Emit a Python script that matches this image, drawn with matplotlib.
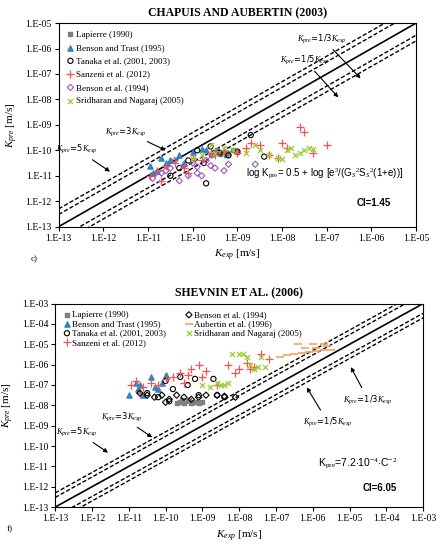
import matplotlib.pyplot as plt
import numpy as np

# ---- data (log10 of K_exp, K_pre) ----
# panel c) Chapuis and Aubertin (2003)
c_lap_x = [-9.6, -9.5, -9.4, -9.3, -9.2, -9.1, -9.0, -9.45, -9.25]
c_lap_y = [-10.2, -10.1, -10.15, -10.05, -10.1, -10.0, -10.05, -10.0, -10.2]
c_bt_x = [-10.95, -10.8, -10.7, -10.6, -10.5, -10.3, -10.0, -9.8, -9.7, -10.2, -10.9]
c_bt_y = [-10.6, -10.8, -10.3, -10.5, -10.4, -10.2, -10.05, -9.95, -10.0, -10.5, -10.9]
c_tan_x = [-10.5, -10.3, -9.9, -9.7, -9.6, -9.4, -9.2, -9.0, -8.7, -8.4, -9.75, -10.1]
c_tan_y = [-11.0, -10.7, -10.0, -11.3, -9.85, -10.1, -10.2, -10.05, -9.4, -10.25, -10.5, -10.4]
c_san_x = [-10.95, -10.8, -10.6, -10.4, -10.2, -10.0, -9.8, -9.5, -9.3, -9.0, -8.8, -8.5, -8.3,
           -8.0, -7.9, -7.6, -7.5, -7.3, -7.0, -10.7, -10.1, -9.6, -8.7, -8.1]
c_san_y = [-11.0, -10.8, -10.6, -10.5, -10.7, -10.3, -10.4, -10.2, -10.0, -10.1, -9.9, -9.8, -10.2,
           -9.7, -9.9, -9.1, -9.3, -10.1, -9.8, -11.2, -10.9, -10.1, -9.7, -10.3]
c_ben_x = [-10.9, -10.7, -10.5, -10.3, -10.2, -10.0, -9.9, -9.8, -9.6, -9.5, -9.3, -9.2, -8.6,
           -10.4, -10.1, -9.7, -10.6, -9.9]
c_ben_y = [-11.1, -10.9, -10.7, -11.2, -10.6, -10.5, -10.9, -11.0, -10.6, -10.7, -10.8, -10.55, -10.55,
           -10.4, -11.0, -10.4, -10.8, -10.65]
c_sri_x = [-10.0, -9.8, -9.5, -9.3, -9.1, -8.8, -8.5, -8.3, -8.1, -7.9, -7.7, -7.6, -7.5, -7.4, -7.3,
           -8.6, -8.0, -7.8, -9.6]
c_sri_y = [-10.3, -10.2, -10.1, -9.9, -10.0, -10.1, -10.0, -10.2, -10.3, -10.0, -10.2, -10.1, -10.0, -9.9,
           -9.95, -9.8, -10.35, -9.9, -9.8]

# panel f) Shevnin et al. (2006)
f_lap_x = [-9.7, -9.6, -9.5, -9.4, -9.3, -9.2, -9.1, -9.0, -9.55, -9.35]
f_lap_y = [-7.9, -7.85, -7.9, -7.8, -7.9, -7.85, -7.9, -7.85, -7.75, -7.75]
f_bt_x = [-11.0, -10.8, -10.7, -10.6, -10.4, -10.3, -10.0, -10.2, -10.1, -10.75]
f_bt_y = [-7.5, -6.9, -7.0, -7.5, -6.6, -7.1, -6.5, -7.2, -6.9, -7.2]
f_tan_x = [-10.5, -10.2, -10.0, -9.8, -9.6, -9.4, -9.2, -9.1, -8.7, -8.4, -8.6, -9.9]
f_tan_y = [-7.4, -7.6, -6.8, -7.2, -6.6, -7.0, -6.7, -7.5, -6.7, -7.6, -7.5, -7.8]
f_san_x = [-10.95, -10.8, -10.6, -10.4, -10.2, -10.0, -9.8, -9.6, -9.4, -9.3, -9.1, -9.0, -8.6,
           -8.3, -8.0, -7.8, -7.6, -7.4, -7.2, -10.7, -9.5, -8.9, -8.1, -7.7]
f_san_y = [-7.0, -6.8, -7.1, -6.9, -7.0, -6.7, -6.6, -6.4, -6.5, -6.2, -6.0, -6.6, -7.0,
           -6.0, -6.2, -5.9, -6.1, -5.5, -5.7, -7.4, -6.9, -6.3, -6.4, -6.2]
f_ben_x = [-10.7, -10.5, -10.3, -10.1, -9.9, -9.7, -9.5, -9.3, -9.1, -8.9, -8.6, -8.4, -8.1, -10.0]
f_ben_y = [-7.4, -7.5, -7.6, -7.5, -7.7, -7.5, -7.6, -7.7, -7.6, -7.5, -7.5, -7.55, -7.6, -7.85]
f_aub_x = [-6.9, -6.7, -6.5, -6.3, -6.1, -5.9, -5.7, -5.5, -6.4, -6.0, -5.7, -6.2, -5.9, -5.6]
f_aub_y = [-5.6, -5.55, -5.5, -5.45, -5.4, -5.35, -5.3, -5.3, -5.0, -5.0, -5.0, -5.2, -5.2, -5.1]
f_sri_x = [-9.0, -8.8, -8.6, -8.4, -8.2, -8.0, -7.8, -7.6, -7.5, -7.4, -7.3, -8.5, -8.3, -7.9, -7.7]
f_sri_y = [-7.0, -7.1, -6.9, -7.0, -5.5, -5.5, -5.6, -6.2, -6.1, -5.6, -6.1, -7.0, -6.9, -5.5, -6.0]

SERIF = 'Liberation Serif'
SANS = 'Liberation Sans'

plt.rcParams['mathtext.fontset'] = 'custom'
plt.rcParams['mathtext.rm'] = SERIF
plt.rcParams['mathtext.it'] = SERIF + ':italic'
plt.rcParams['mathtext.bf'] = SERIF + ':bold'

styles = {
    'lap': dict(marker='s', color='#7f7f7f', s=10, label='Lapierre (1990)'),
    'bt': dict(marker='^', color='#2e86c1', s=14, label='Benson and Trast (1995)'),
    'tan': dict(marker='o', facecolors='none', edgecolors='black', s=14, linewidths=0.8,
                label='Tanaka et al. (2001, 2003)'),
    'san': dict(marker='+', color='#ff5050', s=30, linewidths=0.9, label='Sanzeni et al. (2012)'),
    'sri': dict(marker='x', color='#9acd32', s=14, linewidths=0.9, label='Sridharan and Nagaraj (2005)'),
}


def tick_lbl(v):
    return '1.E%+03d' % v


def frame(ax, lo, hi, title):
    xs = np.array([lo, hi])
    ax.plot(10.0 ** xs, 10.0 ** xs, color='black', lw=1.2)
    for f in [3, 5, 1 / 3, 1 / 5]:
        ax.plot(10.0 ** xs, f * 10.0 ** xs, color='black', lw=1.0, ls=(0, (3, 1.5)))
    ax.set_xscale('log')
    ax.set_yscale('log')
    ax.set_xlim(10.0 ** lo, 10.0 ** hi)
    ax.set_ylim(10.0 ** lo, 10.0 ** hi)
    ticks = list(range(lo, hi + 1))
    ax.set_xticks([10.0 ** t for t in ticks])
    ax.set_yticks([10.0 ** t for t in ticks])
    ax.set_xticklabels([tick_lbl(t) for t in ticks], family=SERIF, fontsize=7)
    ax.set_yticklabels([tick_lbl(t) for t in ticks], family=SERIF, fontsize=7)
    ax.minorticks_off()
    ax.tick_params(length=3, pad=2)
    ax.set_title(title, family=SERIF, fontsize=8.5, fontweight='bold', pad=5)
    ax.set_xlabel(r'$K_{exp}$ [m/s]', family=SERIF, fontsize=8)
    ax.set_ylabel(r'$K_{pre}$ [m/s]', family=SERIF, fontsize=8)


def scat(ax, x, y, key):
    ax.scatter(10.0 ** np.array(x), 10.0 ** np.array(y), zorder=3, **styles[key])


def arrow_lbl(ax, text, txy, axy):
    ax.annotate(text, xy=(10.0 ** axy[0], 10.0 ** axy[1]), xytext=(10.0 ** txy[0], 10.0 ** txy[1]),
                fontsize=6, ha='center', va='center',
                arrowprops=dict(arrowstyle='-|>', color='black', lw=0.8, mutation_scale=6))


fig = plt.figure(figsize=(4.38, 5.5), dpi=100)

# ---- panel c ----
ax1 = fig.add_axes([0.134, 0.588, 0.816, 0.370])
frame(ax1, -13, -5, 'CHAPUIS AND AUBERTIN (2003)')
scat(ax1, c_lap_x, c_lap_y, 'lap')
scat(ax1, c_bt_x, c_bt_y, 'bt')
scat(ax1, c_tan_x, c_tan_y, 'tan')
scat(ax1, c_san_x, c_san_y, 'san')
ax1.scatter(10.0 ** np.array(c_ben_x), 10.0 ** np.array(c_ben_y), marker='D', facecolors='none',
            edgecolors='#9b59b6', s=10, linewidths=0.8, zorder=3, label='Benson et al. (1994)')
scat(ax1, c_sri_x, c_sri_y, 'sri')
ax1.legend(loc='upper left', prop={'family': SERIF, 'size': 6.5}, frameon=False,
           handletextpad=0.1, borderpad=0.3, labelspacing=0.55, handlelength=1.0)
arrow_lbl(ax1, r'$K_{pre}$=3$K_{exp}$', (-11.5, -9.25), (-10.55, -10.05))
arrow_lbl(ax1, r'$K_{pre}$=5$K_{exp}$', (-12.6, -9.95), (-11.8, -10.9))
arrow_lbl(ax1, r'$K_{pre}$=1/3$K_{exp}$', (-7.1, -5.6), (-6.2, -7.25))
arrow_lbl(ax1, r'$K_{pre}$=1/5$K_{exp}$', (-7.5, -6.45), (-6.7, -8.0))
ax1.text(0.965, 0.245, r'log K$_{\rm pre}$= 0.5 + log [e$^3$/(G$_S$$^2$S$_S$$^2$(1+e))]',
         transform=ax1.transAxes, ha='right', fontsize=7, family=SANS)
ax1.text(0.93, 0.1, 'CI=1.45', transform=ax1.transAxes, ha='right', fontsize=7,
         family=SANS, fontweight='bold')
fig.text(0.07, 0.585 - 0.06, 'c)', family=SERIF, fontsize=6.5)

# ---- panel f ----
ax2 = fig.add_axes([0.126, 0.078, 0.840, 0.370])
frame(ax2, -13, -3, 'SHEVNIN ET AL. (2006)')
scat(ax2, f_lap_x, f_lap_y, 'lap')
scat(ax2, f_bt_x, f_bt_y, 'bt')
scat(ax2, f_tan_x, f_tan_y, 'tan')
scat(ax2, f_san_x, f_san_y, 'san')
ax2.scatter(10.0 ** np.array(f_ben_x), 10.0 ** np.array(f_ben_y), marker='D', facecolors='none',
            edgecolors='black', s=10, linewidths=0.8, zorder=3, label='Benson et al. (1994)')
ax2.scatter(10.0 ** np.array(f_aub_x), 10.0 ** np.array(f_aub_y), marker='_', color='#f5a35c',
            s=30, linewidths=1.2, zorder=3, label='Aubertin et al. (1996)')
scat(ax2, f_sri_x, f_sri_y, 'sri')
ax2.legend(loc='upper left', ncol=2, prop={'family': SERIF, 'size': 6.5}, frameon=False,
           handletextpad=0.1, borderpad=0.3, labelspacing=0.1, handlelength=1.0, columnspacing=2.0)
arrow_lbl(ax2, r'$K_{pre}$=3$K_{exp}$', (-11.2, -8.55), (-10.3, -9.65))
arrow_lbl(ax2, r'$K_{pre}$=5$K_{exp}$', (-12.4, -9.3), (-11.5, -10.4))
arrow_lbl(ax2, r'$K_{pre}$=1/3$K_{exp}$', (-4.5, -7.7), (-5.0, -6.0))
arrow_lbl(ax2, r'$K_{pre}$=1/5$K_{exp}$', (-5.6, -8.8), (-6.2, -7.0))
ax2.text(0.93, 0.2, r'K$_{\rm pre}$=7.2$\cdot$10$^{-4}$$\cdot$C$^{-2}$', transform=ax2.transAxes,
         ha='right', fontsize=7.5, family=SANS)
ax2.text(0.93, 0.08, 'CI=6.05', transform=ax2.transAxes, ha='right', fontsize=7,
         family=SANS, fontweight='bold')
fig.text(0.015, 0.035, 'f)', family=SERIF, fontsize=6.5)

fig.savefig('out.png', dpi=100)
